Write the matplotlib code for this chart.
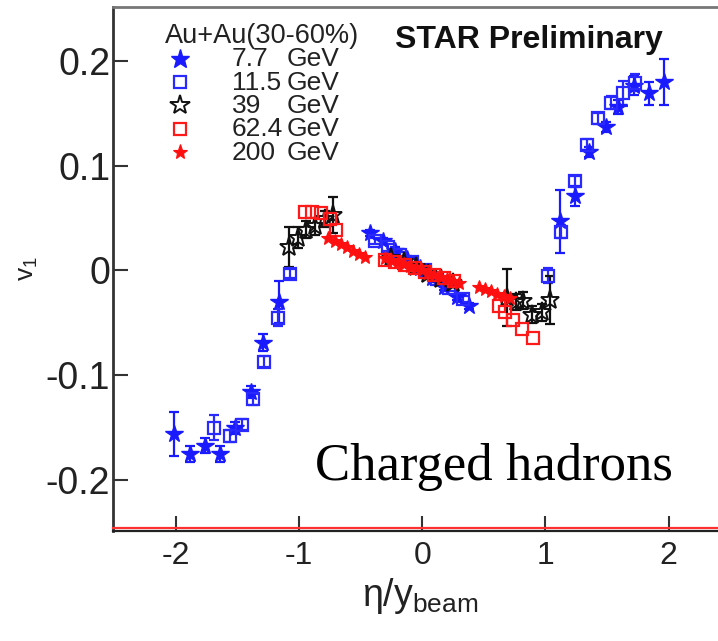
import matplotlib
matplotlib.use('Agg')
import matplotlib.pyplot as plt
from matplotlib.lines import Line2D

plt.rcParams['font.family'] = ['Liberation Sans', 'DejaVu Sans']
plt.rcParams['axes.unicode_minus'] = False
plt.rcParams['mathtext.fontset'] = 'custom'
plt.rcParams['mathtext.rm'] = 'Liberation Sans'
plt.rcParams['mathtext.it'] = 'Liberation Sans:italic'

# ---------------- data ----------------
x77 = [-2.01, -1.88, -1.76, -1.64, -1.52, -1.39, -1.29, -1.16,
       -0.42, -0.32, -0.22, -0.12, -0.02, 0.08, 0.18, 0.28, 0.38,
       1.12, 1.24, 1.35, 1.49, 1.59, 1.72, 1.84, 1.96]
y77 = [-0.156, -0.175, -0.167, -0.175, -0.150, -0.116, -0.069, -0.030,
       0.036, 0.028, 0.019, 0.011, 0.002, -0.007, -0.016, -0.025, -0.034,
       0.047, 0.071, 0.113, 0.137, 0.156, 0.176, 0.169, 0.180]
e77 = [0.021, 0.008, 0.007, 0.008, 0.006, 0.006, 0.008, 0.020,
       0.003, 0.003, 0.003, 0.003, 0.003, 0.003, 0.003, 0.003, 0.003,
       0.030, 0.010, 0.005, 0.005, 0.007, 0.009, 0.011, 0.022]

x115 = [-1.69, -1.56, -1.46, -1.37, -1.28, -1.17, -1.07,
        -0.38, -0.28, -0.18, -0.08, 0.02, 0.12, 0.22, 0.33,
        1.02, 1.13, 1.24, 1.34, 1.43, 1.53, 1.63, 1.73]
y115 = [-0.150, -0.158, -0.147, -0.123, -0.087, -0.045, -0.003,
        0.028, 0.022, 0.015, 0.008, 0.000, -0.008, -0.017, -0.027,
        -0.005, 0.037, 0.085, 0.120, 0.145, 0.160, 0.169, 0.179]
e115 = [0.012, 0.006, 0.005, 0.005, 0.005, 0.008, 0.004,
        0.003, 0.003, 0.003, 0.003, 0.003, 0.003, 0.003, 0.003,
        0.007, 0.006, 0.005, 0.005, 0.005, 0.006, 0.012, 0.008]

x39 = [-1.08, -1.01, -0.94, -0.87, -0.79, -0.72,
       -0.25, -0.15, -0.05, 0.05, 0.15, 0.25,
       0.69, 0.76, 0.82, 0.89, 0.97, 1.04]
y39 = [0.022, 0.031, 0.039, 0.042, 0.049, 0.053,
       0.012, 0.008, 0.003, -0.003, -0.008, -0.012,
       -0.026, -0.030, -0.029, -0.042, -0.040, -0.028]
e39 = [0.019, 0.010, 0.008, 0.008, 0.008, 0.017,
       0.003, 0.003, 0.003, 0.003, 0.003, 0.003,
       0.027, 0.008, 0.008, 0.008, 0.008, 0.023]

x624 = [-0.95, -0.89, -0.82, -0.75, -0.70,
        -0.30, -0.22, -0.14, -0.06, 0.02, 0.10, 0.18, 0.26,
        0.62, 0.67, 0.74, 0.81, 0.90]
y624 = [0.056, 0.056, 0.055, 0.049, 0.039,
        0.010, 0.008, 0.005, 0.002, -0.001, -0.004, -0.007, -0.010,
        -0.034, -0.040, -0.047, -0.056, -0.064]

x200 = [-0.76, -0.71, -0.66, -0.61, -0.56, -0.51, -0.46,
        -0.30, -0.25, -0.20, -0.15, -0.10, -0.05, 0.00, 0.05, 0.10, 0.15, 0.20, 0.25, 0.30,
        0.46, 0.51, 0.56, 0.61, 0.66, 0.71]
y200 = [0.031, 0.028, 0.025, 0.022, 0.019, 0.016, 0.013,
        0.012, 0.010, 0.008, 0.006, 0.004, 0.002, 0.000, -0.002, -0.004, -0.006, -0.008, -0.010, -0.012,
        -0.016, -0.018, -0.020, -0.022, -0.024, -0.026]

energies = ['7.7', '11.5', '39', '62.4', '200']
legend_title = 'Au+Au(30-60%)'
xticks = [-2, -1, 0, 1, 2]
xticklabels = ['-2', '-1', '0', '1', '2']
yticks = [-0.2, -0.1, 0, 0.1, 0.2]
yticklabels = ['-0.2', '-0.1', '0', '0.1', '0.2']

# ---------------- styles ----------------
styles = [
    dict(marker='*', color='#1a1aff', mfc='#1a1aff', ms=13, mew=1.0),
    dict(marker='s', color='#2a2aff', mfc='none', ms=9, mew=1.6),
    dict(marker='*', color='#111111', mfc='none', ms=14, mew=1.4),
    dict(marker='s', color='#ff1a1a', mfc='none', ms=8.5, mew=1.6),
    dict(marker='*', color='#ff1010', mfc='#ff1010', ms=10, mew=0.8),
]

W, H = 718, 641
fig = plt.figure(figsize=(W / 100, H / 100), dpi=100)
ax = fig.add_axes([113 / W, 110 / H, (W - 113) / W, 524 / H])

series = [(x77, y77, e77), (x115, y115, e115), (x39, y39, e39),
          (x624, y624, None), (x200, y200, None)]
for (xs, ys, es), st in zip(series, styles):
    if es is not None:
        ax.errorbar(xs, ys, yerr=es, fmt='none', ecolor=st['color'],
                    elinewidth=1.6, capsize=3.5, capthick=1.6, zorder=2)
    ax.plot(xs, ys, linestyle='none', marker=st['marker'], color=st['color'],
            mfc=st['mfc'], mec=st['color'], ms=st['ms'], mew=st['mew'], zorder=3)

ax.set_xlim(-2.508, 2.40)
ax.set_ylim(-0.2484, 0.2512)
ax.set_xticks(xticks)
ax.set_xticklabels(xticklabels)
ax.set_yticks(yticks)
ax.set_yticklabels(yticklabels)
ax.tick_params(axis='both', direction='in', length=11, width=1.5, color='#333333')
ax.tick_params(axis='x', labelsize=23, pad=7)
ax.tick_params(axis='y', labelsize=27, pad=2)
for lab in ax.get_xticklabels() + ax.get_yticklabels():
    lab.set_color('#222222')

ax.spines['right'].set_visible(False)
ax.spines['left'].set_color('#333333')
ax.spines['left'].set_linewidth(2)
ax.spines['top'].set_color('#777777')
ax.spines['top'].set_linewidth(2)
ax.spines['bottom'].set_color('#222222')
ax.spines['bottom'].set_linewidth(1.6)
ax.add_line(Line2D([0, 1], [0.005, 0.005], transform=ax.transAxes,
                   color='#ff3030', lw=1.6, clip_on=False, zorder=5))

ax.set_xlabel(r'$\mathregular{η/y_{beam}}$', fontsize=27, color='#222222')
ax.xaxis.set_label_coords((420 - 113) / 605, -(576 - 531) / 524)
ax.set_ylabel(r'$\mathregular{v_1}$', fontsize=19, color='#222222')
ax.yaxis.set_label_coords(-(113 - 28) / 605, 0.5)
ax.yaxis.label.set_va('center')

def fx(px):
    return px / W

def fy(py):
    return 1 - py / H

# legend block
fig.text(fx(165), fy(43), legend_title, fontsize=19.5, color='#222222', va='baseline')
rows_base = [66.5, 90, 113, 136.5, 159.5]
for e, st, yb in zip(energies, styles, rows_base):
    ms = {'*': st['ms'] + 1, 's': st['ms']}[st['marker']]
    fig.add_artist(Line2D([fx(180)], [fy(yb - 8)], transform=fig.transFigure,
                          linestyle='none', marker=st['marker'], color=st['color'],
                          mfc=st['mfc'], mec=st['color'], ms=ms, mew=st['mew']))
    fig.text(fx(232), fy(yb), e, fontsize=19, color='#222222', va='baseline')
    fig.text(fx(287), fy(yb), 'GeV', fontsize=19, color='#222222', va='baseline')

fig.text(fx(395), fy(48), 'STAR Preliminary', fontsize=23, fontweight='bold',
         color='#111111', va='baseline')
fig.text(fx(315), fy(480), 'Charged hadrons', fontsize=38,
         family=['Liberation Serif', 'DejaVu Serif'], color='black', va='baseline')

fig.savefig('out.png', dpi=100)
